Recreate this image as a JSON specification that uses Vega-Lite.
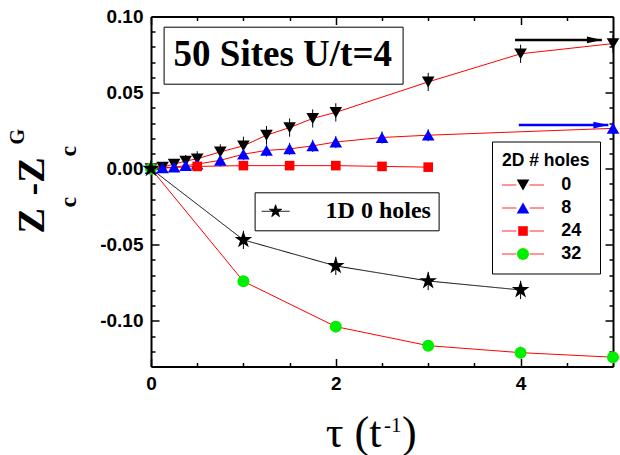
{
  "$schema": "https://vega.github.io/schema/vega-lite/v6.json",
  "width": 462,
  "height": 350,
  "autosize": {"type": "none"},
  "padding": {"left": 151, "top": 16.5, "right": 7, "bottom": 88.5},
  "background": "white",
  "config": {
    "locale": {"number": {"decimal": ".", "thousands": ",", "grouping": [3], "currency": ["$", ""], "minus": "-"}},
    "view": {"stroke": null},
    "axis": {"grid": false, "labelFont": "Liberation Sans", "labelFontWeight": "bold", "labelFontSize": 19, "labelColor": "black", "tickColor": "black", "tickWidth": 1.5, "domainColor": "black", "domainWidth": 2, "labelFlush": false, "labelOverlap": false, "titleColor": "black", "titleFont": "Liberation Serif"},
    "legend": {"labelColor": "black", "titleColor": "black"}
  },
  "datasets": {
    "pts": [
      {"dim": "2D", "holes": 0, "tau": 0, "z": 0, "err": 0},
      {"dim": "2D", "holes": 0, "tau": 0.125, "z": 0.001, "err": 0.002},
      {"dim": "2D", "holes": 0, "tau": 0.25, "z": 0.003, "err": 0.003},
      {"dim": "2D", "holes": 0, "tau": 0.375, "z": 0.005, "err": 0.004},
      {"dim": "2D", "holes": 0, "tau": 0.5, "z": 0.0065, "err": 0.005},
      {"dim": "2D", "holes": 0, "tau": 0.75, "z": 0.011, "err": 0.005},
      {"dim": "2D", "holes": 0, "tau": 1, "z": 0.015, "err": 0.006},
      {"dim": "2D", "holes": 0, "tau": 1.25, "z": 0.022, "err": 0.006},
      {"dim": "2D", "holes": 0, "tau": 1.5, "z": 0.027, "err": 0.006},
      {"dim": "2D", "holes": 0, "tau": 1.75, "z": 0.033, "err": 0.006},
      {"dim": "2D", "holes": 0, "tau": 2, "z": 0.037, "err": 0.006},
      {"dim": "2D", "holes": 0, "tau": 3, "z": 0.057, "err": 0.006},
      {"dim": "2D", "holes": 0, "tau": 4, "z": 0.0755, "err": 0.006},
      {"dim": "2D", "holes": 0, "tau": 5, "z": 0.0822, "err": 0.006},
      {"dim": "2D", "holes": 8, "tau": 0, "z": 0, "err": 0},
      {"dim": "2D", "holes": 8, "tau": 0.125, "z": 0.0005, "err": 0.002},
      {"dim": "2D", "holes": 8, "tau": 0.25, "z": 0.001, "err": 0.003},
      {"dim": "2D", "holes": 8, "tau": 0.375, "z": 0.002, "err": 0.003},
      {"dim": "2D", "holes": 8, "tau": 0.5, "z": 0.003, "err": 0.003},
      {"dim": "2D", "holes": 8, "tau": 0.75, "z": 0.0055, "err": 0.004},
      {"dim": "2D", "holes": 8, "tau": 1, "z": 0.0095, "err": 0.004},
      {"dim": "2D", "holes": 8, "tau": 1.25, "z": 0.012, "err": 0.004},
      {"dim": "2D", "holes": 8, "tau": 1.5, "z": 0.013, "err": 0.004},
      {"dim": "2D", "holes": 8, "tau": 1.75, "z": 0.015, "err": 0.004},
      {"dim": "2D", "holes": 8, "tau": 2, "z": 0.0175, "err": 0.004},
      {"dim": "2D", "holes": 8, "tau": 2.5, "z": 0.0205, "err": 0.004},
      {"dim": "2D", "holes": 8, "tau": 3, "z": 0.022, "err": 0.004},
      {"dim": "2D", "holes": 8, "tau": 5, "z": 0.0265, "err": 0.004},
      {"dim": "2D", "holes": 24, "tau": 0, "z": 0, "err": 0},
      {"dim": "2D", "holes": 24, "tau": 0.5, "z": 0.0015, "err": 0},
      {"dim": "2D", "holes": 24, "tau": 1, "z": 0.002, "err": 0},
      {"dim": "2D", "holes": 24, "tau": 1.5, "z": 0.002, "err": 0},
      {"dim": "2D", "holes": 24, "tau": 2, "z": 0.002, "err": 0},
      {"dim": "2D", "holes": 24, "tau": 2.5, "z": 0.0015, "err": 0},
      {"dim": "2D", "holes": 24, "tau": 3, "z": 0.001, "err": 0},
      {"dim": "2D", "holes": 32, "tau": 0, "z": 0, "err": 0},
      {"dim": "2D", "holes": 32, "tau": 1, "z": -0.074, "err": 0.002},
      {"dim": "2D", "holes": 32, "tau": 2, "z": -0.1038, "err": 0.002},
      {"dim": "2D", "holes": 32, "tau": 3, "z": -0.1163, "err": 0.002},
      {"dim": "2D", "holes": 32, "tau": 4, "z": -0.1209, "err": 0.004},
      {"dim": "2D", "holes": 32, "tau": 5, "z": -0.1239, "err": 0.002},
      {"dim": "1D", "holes": 0, "tau": 0, "z": 0, "err": 0},
      {"dim": "1D", "holes": 0, "tau": 1, "z": -0.0468, "err": 0.006},
      {"dim": "1D", "holes": 0, "tau": 2, "z": -0.0639, "err": 0.006},
      {"dim": "1D", "holes": 0, "tau": 3, "z": -0.0738, "err": 0.006},
      {"dim": "1D", "holes": 0, "tau": 4, "z": -0.0797, "err": 0.006}
    ],
    "arrows": [
      {"holes": 0, "x1": 3.94, "x2": 4.88, "yv": 0.0846},
      {"holes": 8, "x1": 3.98, "x2": 4.95, "yv": 0.0287}
    ]
  },
  "resolve": {"scale": {"strokeDash": "independent"}, "axis": {"x": "independent", "y": "independent"}},
  "layer": [
    {
      "data": {"name": "pts"},
      "transform": [{"filter": "datum.dim == '2D'"}],
      "mark": {"type": "line", "strokeWidth": 1},
      "encoding": {
        "x": {"field": "tau", "type": "quantitative", "scale": {"domain": [0, 5], "nice": false},
          "axis": {"orient": "bottom", "values": [0, 2, 4], "format": "d", "tickSize": -8, "labelPadding": 16, "domain": true,
            "title": "τ (t", "titleFontSize": 44, "titleFontWeight": "normal", "titleAlign": "left", "titleBaseline": "alphabetic", "titleAngle": 0, "titleX": 174.3, "titleY": 79.5}},
        "y": {"field": "z", "type": "quantitative", "scale": {"domain": [-0.13, 0.1], "nice": false, "zero": false},
          "axis": {"orient": "left", "values": [-0.1, -0.05, 0, 0.05, 0.1], "format": ".2f", "tickSize": -8, "labelPadding": 16, "domain": true,
            "title": "Z", "titleFontSize": 38, "titleFontWeight": "bold", "titleAngle": 270, "titleAlign": "left", "titleBaseline": "alphabetic", "titleX": -107.7, "titleY": 216.5}},
        "stroke": {"field": "holes", "type": "ordinal", "scale": {"range": ["#ff0000", "#ff0000", "#ff0000", "#ff0000"]},
          "legend": {"orient": "none", "legendX": 341, "legendY": 125, "padding": 10, "title": "2D # holes", "titleFont": "Liberation Sans", "titleFontSize": 17.5, "titleFontWeight": "bold", "titlePadding": 7, "titleOpacity": 0,
            "labelFont": "Liberation Sans", "labelFontSize": 18, "labelFontWeight": "bold", "labelOpacity": 0, "labelOffset": 29.3, "rowPadding": 5,
            "symbolType": "M-3.5,0L-1.1,0M1.1,0L3.5,0", "symbolSize": 144, "symbolOffset": 12, "symbolStrokeWidth": 1.5, "symbolOpacity": 0.55}}
      }
    },
    {
      "data": {"name": "pts"},
      "transform": [{"filter": "datum.dim == '1D'"}],
      "mark": {"type": "line", "strokeWidth": 1, "color": "black"},
      "encoding": {
        "x": {"field": "tau", "type": "quantitative",
          "axis": {"orient": "top", "values": [0.5, 1, 1.5, 2.5, 3, 3.5, 4.5], "tickSize": -4, "labels": false, "domain": false, "title": null}},
        "y": {"field": "z", "type": "quantitative",
          "axis": {"orient": "right", "values": [-0.13, -0.12, -0.11, -0.09, -0.08, -0.07, -0.06, -0.04, -0.03, -0.02, -0.01, 0.01, 0.02, 0.03, 0.04, 0.06, 0.07, 0.08, 0.09], "tickSize": -4, "labels": false, "domain": false, "title": null}},
        "strokeDash": {"field": "dim", "type": "nominal", "scale": {"range": [[1, 0]]},
          "legend": {"orient": "none", "legendX": 103.6, "legendY": 175.8, "padding": 7, "strokeColor": "black", "title": null,
            "labelExpr": "'1D 0 holes'", "labelFont": "Liberation Serif", "labelFontSize": 24, "labelFontWeight": "bold", "labelColor": "black", "labelOffset": 38, "labelLimit": 300,
            "symbolType": "M-2.15,0L2.15,0M0,-1L0.225,-0.309L0.951,-0.309L0.363,0.118L0.588,0.809L0,0.382L-0.588,0.809L-0.363,0.118L-0.951,-0.309L-0.225,-0.309Z",
            "symbolSize": 169, "symbolOffset": 2, "symbolStrokeWidth": 1, "symbolStrokeColor": "black", "symbolFillColor": "black",
            "encode": {"symbols": {"update": {"fill": {"value": "black"}, "stroke": {"value": "black"}}}}}}
      }
    },
    {
      "data": {"name": "pts"},
      "transform": [{"filter": "datum.dim === '2D'"}],
      "mark": {"type": "errorbar", "ticks": false, "thickness": 1},
      "encoding": {
        "x": {"field": "tau", "type": "quantitative",
          "axis": {"orient": "bottom", "values": [0.5, 1, 1.5, 2.5, 3, 3.5, 4.5], "tickSize": -4, "labels": false, "domain": false,
            "title": "-1", "titleFontSize": 21, "titleFontWeight": "normal", "titleAlign": "left", "titleBaseline": "alphabetic", "titleAngle": 0, "titleX": 232.5, "titleY": 64.5}},
        "y": {"field": "z", "type": "quantitative",
          "axis": {"orient": "left", "values": [-0.13, -0.12, -0.11, -0.09, -0.08, -0.07, -0.06, -0.04, -0.03, -0.02, -0.01, 0.01, 0.02, 0.03, 0.04, 0.06, 0.07, 0.08, 0.09], "tickSize": -4, "labels": false, "domain": false,
            "title": "c", "titleFontSize": 24, "titleFontWeight": "bold", "titleAngle": 270, "titleAlign": "left", "titleBaseline": "alphabetic", "titleX": -75.7, "titleY": 190.5}},
        "yError": {"field": "err"},
        "color": {"field": "holes", "type": "ordinal", "scale": {"domain": [0, 8, 24, 32], "range": ["#000000", "#0000ff", "#ff0000", "#00ee00"]}, "legend": null}
      }
    },
    {
      "data": {"name": "pts"},
      "transform": [{"filter": "datum.dim === '1D'"}],
      "mark": {"type": "errorbar", "ticks": false, "thickness": 1, "color": "black"},
      "encoding": {
        "x": {"field": "tau", "type": "quantitative",
          "axis": {"orient": "bottom", "ticks": false, "labels": false, "domain": false,
            "title": ")", "titleFontSize": 44, "titleFontWeight": "normal", "titleAlign": "left", "titleBaseline": "alphabetic", "titleAngle": 0, "titleX": 250.5, "titleY": 79.5}},
        "y": {"field": "z", "type": "quantitative",
          "axis": {"orient": "left", "ticks": false, "labels": false, "domain": false,
            "title": "-Z", "titleFontSize": 38, "titleFontWeight": "bold", "titleAngle": 270, "titleAlign": "left", "titleBaseline": "alphabetic", "titleX": -107.7, "titleY": 178.5}},
        "yError": {"field": "err"}
      }
    },
    {
      "data": {"name": "pts"},
      "transform": [{"filter": "datum.dim != '1D'"}],
      "mark": {"type": "point", "filled": true, "size": 144, "opacity": 1, "strokeWidth": 0},
      "encoding": {
        "x": {"field": "tau", "type": "quantitative",
          "axis": {"orient": "top", "values": [0, 2, 4], "tickSize": -8, "labels": false, "domain": true, "title": null}},
        "y": {"field": "z", "type": "quantitative",
          "axis": {"orient": "right", "values": [-0.1, -0.05, 0, 0.05, 0.1], "tickSize": -8, "labels": false, "domain": true, "title": null}},
        "shape": {"field": "holes", "type": "ordinal",
          "scale": {"range": ["M-1.05,-0.9L1.05,-0.9L0,0.92Z", "M0,-0.92L1.05,0.9L-1.05,0.9Z", "M-0.8,-0.8L0.8,-0.8L0.8,0.8L-0.8,0.8Z", "circle"]},
          "legend": {"orient": "none", "legendX": 341, "legendY": 125, "padding": 10, "strokeColor": "black", "title": "2D # holes", "titleFont": "Liberation Sans", "titleFontSize": 17.5, "titleFontWeight": "bold", "titlePadding": 7,
            "labelFont": "Liberation Sans", "labelFontSize": 18, "labelFontWeight": "bold", "labelOffset": 29.3, "rowPadding": 5,
            "symbolSize": 144, "symbolOffset": 12, "symbolStrokeWidth": 0}},
        "fill": {"field": "holes", "type": "ordinal",
          "scale": {"range": ["#000000", "#0000ff", "#ff0000", "#00ee00"]},
          "legend": {"orient": "none", "legendX": 341, "legendY": 125, "padding": 10, "strokeColor": "black", "title": "2D # holes", "titleFont": "Liberation Sans", "titleFontSize": 17.5, "titleFontWeight": "bold", "titlePadding": 7,
            "labelFont": "Liberation Sans", "labelFontSize": 18, "labelFontWeight": "bold", "labelOffset": 29.3, "rowPadding": 5,
            "symbolSize": 144, "symbolOffset": 12, "symbolStrokeWidth": 0}}
      }
    },
    {
      "data": {"name": "pts"},
      "transform": [{"filter": "datum.dim != '2D'"}],
      "mark": {"type": "point", "filled": true, "size": 340, "opacity": 1, "color": "black", "strokeWidth": 0,
        "shape": "M0,-1L0.225,-0.309L0.951,-0.309L0.363,0.118L0.588,0.809L0,0.382L-0.588,0.809L-0.363,0.118L-0.951,-0.309L-0.225,-0.309Z"},
      "encoding": {
        "x": {"field": "tau", "type": "quantitative", "axis": null},
        "y": {"field": "z", "type": "quantitative",
          "axis": {"orient": "left", "ticks": false, "labels": false, "domain": false,
            "title": "c", "titleFontSize": 24, "titleFontWeight": "bold", "titleAngle": 270, "titleAlign": "left", "titleBaseline": "alphabetic", "titleX": -75.7, "titleY": 139.5}}
      }
    },
    {
      "data": {"name": "arrows"},
      "mark": {"type": "rule", "strokeWidth": 2.5},
      "encoding": {
        "x": {"field": "x1", "type": "quantitative", "axis": null},
        "x2": {"field": "x2"},
        "y": {"field": "yv", "type": "quantitative",
          "axis": {"orient": "left", "ticks": false, "labels": false, "domain": false,
            "title": "G", "titleFontSize": 20, "titleFontWeight": "bold", "titleAngle": 270, "titleAlign": "left", "titleBaseline": "alphabetic", "titleX": -127.7, "titleY": 127.5}},
        "color": {"field": "holes", "type": "ordinal", "scale": {"domain": [0, 8, 24, 32], "range": ["#000000", "#0000ff", "#ff0000", "#00ee00"]}, "legend": null},
        "strokeDash": {"datum": "50 Sites U/t=4", "type": "nominal", "scale": {"range": [[1, 0]]},
          "legend": {"orient": "none", "legendX": 12.6, "legendY": 10.2, "padding": 10, "strokeColor": "black", "title": null,
            "labelFont": "Liberation Serif", "labelFontSize": 37, "labelFontWeight": "bold", "labelColor": "black", "labelOffset": -37, "labelLimit": 500,
            "symbolType": "circle", "symbolSize": 0, "symbolStrokeWidth": 0, "symbolOpacity": 0}}
      }
    },
    {
      "data": {"name": "arrows"},
      "mark": {"type": "point", "filled": true, "size": 225, "opacity": 1, "strokeWidth": 0, "shape": "M-2,-0.45L0,0L-2,0.45Z"},
      "encoding": {
        "x": {"field": "x2", "type": "quantitative", "axis": null},
        "y": {"field": "yv", "type": "quantitative", "axis": null},
        "color": {"field": "holes", "type": "ordinal", "scale": {"domain": [0, 8, 24, 32], "range": ["#000000", "#0000ff", "#ff0000", "#00ee00"]}, "legend": null}
      }
    }
  ]
}
